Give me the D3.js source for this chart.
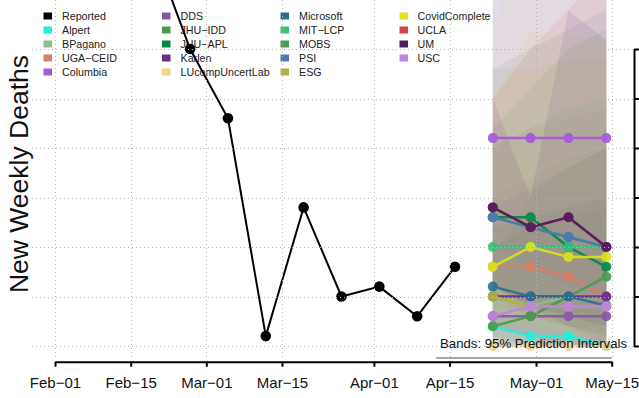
<!DOCTYPE html>
<html><head><meta charset="utf-8">
<script src="https://cdn.jsdelivr.net/npm/d3@7"></script>
<style>
body{margin:0;background:#fff;}
svg{display:block;}
text{font-family:"Liberation Sans",Arial,Helvetica,sans-serif;}
</style>
</head><body>
<svg id="c" width="639" height="398"></svg>
<script>
// ---------- data ----------
const reportedDates = ["2021-02-12","2021-02-19","2021-02-26","2021-03-05","2021-03-12","2021-03-19","2021-03-26","2021-04-02","2021-04-09","2021-04-16"];
const reportedValues = [420, 403, 300, 230, 10, 140, 50, 60, 30, 80];

const forecastDates = ["2021-04-23","2021-04-30","2021-05-07","2021-05-14"];

const modelNames = ["Alpert","BPagano","UGA\u2212CEID","Columbia","DDS","JHU\u2212IDD","JHU\u2212APL","Karlen","LUcompUncertLab","Microsoft","MIT\u2212LCP","MOBS","PSI","ESG","CovidComplete","UCLA","UM","USC"];
const modelColors = ["#1EF2DC","#8DBE8F","#DB7F63","#A259D9","#8856A7","#4A9A4E","#008A45","#6A2C91","#F6D38B","#2B718F","#3BC17A","#459F4D","#4E78B9","#B0B43C","#DDE21B","#D64343","#4C1D5F","#BE84E0"];

const medians = [
  [20,10,10,0],[50,41,50,50],[80,80,70,50],[210,210,210,210],[30,30,30,30],
  [20,30,50,70],[130,130,100,80],[50,50,50,50],[0,0,0,0],[60,50,50,41],
  [100,100,100,100],[130,120,110,100],[130,120,110,100],[50,40,40,40],[80,100,90,90],
  [140,120,130,100],[140,120,130,100],[30,40,40,40]
];
const lower95 = [
  [0,0,0,0],[10,0,0,0],[20,10,0,0],[100,80,60,50],[0,0,0,0],
  [0,0,0,0],[60,40,20,10],[10,0,0,0],[0,0,0,0],[20,10,0,0],
  [40,30,20,20],[0,0,0,0],[60,40,20,10],[0,0,0,0],[20,20,10,10],
  [50,30,20,0],[60,40,30,20],[0,0,0,0]
];
const upper95 = [
  [60,50,50,40],[150,170,190,200],[200,220,230,240],[420,450,480,520],[100,120,130,140],
  [380,400,420,440],[220,260,300,320],[140,160,180,200],[300,500,600,700],[120,130,140,150],
  [200,220,240,250],[90,150,180,200],[280,300,320,340],[280,280,289,290],[250,319,315,309],
  [250,300,340,380],[250,150,339,309],[360,400,450,520]
];

const xTickDates = ["2021-02-01","2021-02-15","2021-03-01","2021-03-15","2021-04-01","2021-04-15","2021-05-01","2021-05-15"];
const xTickLabels = ["Feb\u221201","Feb\u221215","Mar\u221201","Mar\u221215","Apr\u221201","Apr\u221215","May\u221201","May\u221215"];
const yTicks = [0,50,100,150,200,250,300];

// ---------- scales ----------
const P = d => new Date(d + "T00:00:00Z");
const x = d3.scaleUtc().domain([P("2021-02-01"), P("2021-05-15")]).range([55, 611.7]);
const y = d3.scaleLinear().domain([0, 300]).range([346, 49]);

const svg = d3.select("#c");
svg.append("defs").append("clipPath").attr("id","plot")
  .append("rect").attr("x",32).attr("y",-200).attr("width",601).attr("height",557);

// ---------- legend ----------
const legNames = ["Reported", ...modelNames];
const legColors = ["#000000", ...modelColors];
const colSq = [43.5, 162, 280.5, 399.5];
const colTx = [62, 180.5, 299, 417.5];
const leg = svg.append("g");
legNames.forEach((n,i) => {
  const c = Math.floor(i/5), r = i%5;
  const cy = 16 + r*14;
  leg.append("rect").attr("x",colSq[c]).attr("y",cy-3.5).attr("width",8.5).attr("height",7).attr("fill",legColors[i]);
  leg.append("text").attr("x",colTx[c]).attr("y",cy+3.9).attr("font-size",10.7).attr("fill","#222").text(n);
});

// ---------- bands ----------
const plot = svg.append("g").attr("clip-path","url(#plot)");
const fd = forecastDates.map(P);
const area = d3.area().x((d,i)=>x(fd[i])).y0(d=>y(d[0])).y1(d=>y(d[1]));
modelNames.forEach((n,m) => {
  const pts = fd.map((d,i)=>[lower95[m][i], upper95[m][i]]);
  plot.append("path").attr("d", area(pts)).attr("fill", modelColors[m]).attr("fill-opacity",0.095).attr("stroke","none");
});

// ---------- grid ----------
const grid = svg.append("g").attr("stroke","#b4b4b4").attr("stroke-width",1).attr("stroke-dasharray","1,3");
yTicks.forEach(v => grid.append("line").attr("x1",32).attr("x2",633).attr("y1",Math.round(y(v))+0.5).attr("y2",Math.round(y(v))+0.5));
xTickDates.forEach(d => grid.append("line").attr("x1",Math.round(x(P(d)))+0.5).attr("x2",Math.round(x(P(d)))+0.5).attr("y1",0).attr("y2",357));

// ---------- forecast lines ----------
const line = d3.line().x((d,i)=>x(fd[i])).y(d=>y(d));
modelNames.forEach((n,m) => {
  const g = plot.append("g").attr("opacity",0.92);
  g.append("path").attr("d", line(medians[m])).attr("fill","none").attr("stroke",modelColors[m]).attr("stroke-width",2.5);
  medians[m].forEach((v,i) => g.append("circle").attr("cx",x(fd[i])).attr("cy",y(v)).attr("r",5).attr("fill",modelColors[m]));
});

// ---------- reported ----------
const rd = reportedDates.map(P);
const rline = d3.line().x((d,i)=>x(rd[i])).y(d=>y(d));
plot.append("path").attr("d", rline(reportedValues)).attr("fill","none").attr("stroke","#000").attr("stroke-width",2);
reportedValues.forEach((v,i) => plot.append("circle").attr("cx",x(rd[i])).attr("cy",y(v)).attr("r",5.3).attr("fill","#000"));

// ---------- bands legend ----------
svg.append("line").attr("x1",436).attr("x2",611.7).attr("y1",358).attr("y2",358).attr("stroke","#8a8a8a").attr("stroke-width",1.5);
svg.append("text").attr("x",627).attr("y",348.3).attr("text-anchor","end").attr("font-size",13.2).attr("fill","#111").text("Bands: 95% Prediction Intervals");

// ---------- axes ----------
const xa = svg.append("g").attr("transform","translate(0,361.7)")
  .call(d3.axisBottom(x).tickValues(xTickDates.map(P)).tickFormat((d,i)=>xTickLabels[i]).tickSize(5).tickSizeOuter(0).tickPadding(11));
xa.select(".domain").attr("stroke","#000").attr("stroke-width",2);
xa.selectAll(".tick line").attr("stroke","#000").attr("stroke-width",2);
xa.selectAll(".tick text").attr("font-size",15).attr("fill","#111").attr("font-family","'Liberation Sans',Arial,sans-serif");

// right axis: its labels fall outside the picture in the reference, so only the line and ticks are drawn
const ya = svg.append("g").attr("transform","translate(634,0)")
  .call(d3.axisRight(y).tickValues(yTicks).tickFormat("").tickSize(7).tickSizeOuter(0));
ya.select(".domain").attr("stroke","#000").attr("stroke-width",2);
ya.selectAll(".tick line").attr("stroke","#000").attr("stroke-width",2);

// ---------- y title ----------
svg.append("text").attr("transform","translate(28,174) rotate(-90)").attr("text-anchor","middle")
  .attr("font-size",26.5).attr("fill","#111").text("New Weekly Deaths");
</script>
</body></html>
